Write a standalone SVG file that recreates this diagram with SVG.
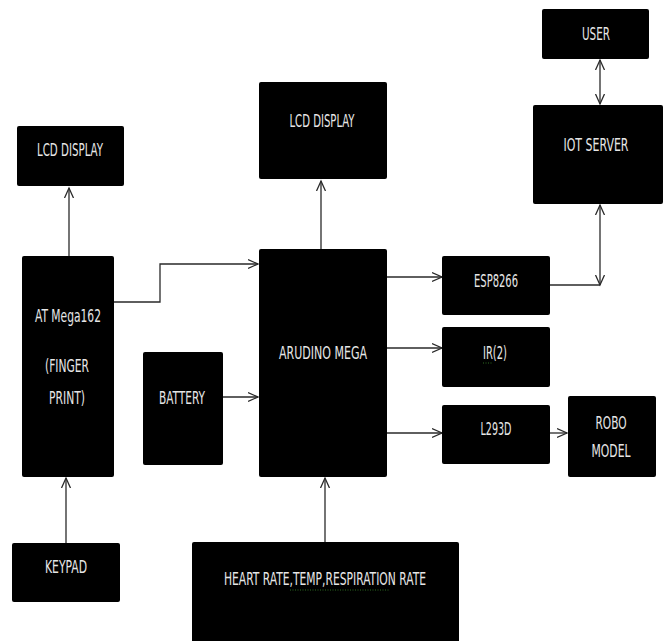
<svg xmlns="http://www.w3.org/2000/svg" width="668" height="641" viewBox="0 0 668 641">
<style>
.box{fill:#000;rx:2px;ry:2px}
.t{fill:#e6e6e6;font-family:"DejaVu Sans Condensed","Liberation Sans",sans-serif;font-size:17px;text-anchor:middle}
.c{fill:none;stroke:#2a2a2a;stroke-width:1.3}
.sq{fill:none;stroke:#3a8a2a;stroke-width:1;stroke-dasharray:1 1.5;opacity:.8}
</style>
<defs>
<marker id="ah" markerUnits="userSpaceOnUse" markerWidth="12" markerHeight="12" viewBox="0 0 12 12" refX="10" refY="6" orient="auto-start-reverse">
<path d="M0,1.5 L10,6 L0,10.5" fill="none" stroke="#2a2a2a" stroke-width="1.3"/>
</marker>
</defs>
<rect width="668" height="641" fill="#fff"/>
<g id="connectors">
<path class="c" d="M69,256 V188" marker-end="url(#ah)"/>
<path class="c" d="M321,249 V181" marker-end="url(#ah)"/>
<path class="c" d="M600,60 V104" marker-start="url(#ah)" marker-end="url(#ah)"/>
<path class="c" d="M550,285 H600"/>
<path class="c" d="M600,205 V285" marker-start="url(#ah)" marker-end="url(#ah)"/>
<path class="c" d="M114,302 H160 V264 H258" marker-end="url(#ah)"/>
<path class="c" d="M223,397 H258" marker-end="url(#ah)"/>
<path class="c" d="M387,277 H442" marker-end="url(#ah)"/>
<path class="c" d="M387,348 H442" marker-end="url(#ah)"/>
<path class="c" d="M387,433 H442" marker-end="url(#ah)"/>
<path class="c" d="M550,433 H567" marker-end="url(#ah)"/>
<path class="c" d="M66,543 V478" marker-end="url(#ah)"/>
<path class="c" d="M325,542 V478" marker-end="url(#ah)"/>
</g>
<g id="lcd-left">
<rect class="box" x="17" y="126" width="107" height="60"/>
<text class="t" x="70" y="156" textLength="66" lengthAdjust="spacingAndGlyphs">LCD DISPLAY</text>
</g>
<g id="lcd-center">
<rect class="box" x="259" y="82" width="128" height="97"/>
<text class="t" x="322" y="127" textLength="65" lengthAdjust="spacingAndGlyphs">LCD DISPLAY</text>
</g>
<g id="user">
<rect class="box" x="542" y="9" width="107" height="50"/>
<text class="t" x="596" y="40" textLength="28" lengthAdjust="spacingAndGlyphs">USER</text>
</g>
<g id="iot-server">
<rect class="box" x="533" y="105" width="130" height="99"/>
<text class="t" x="596" y="151" textLength="65" lengthAdjust="spacingAndGlyphs">IOT SERVER</text>
</g>
<g id="atmega">
<rect class="box" x="22" y="256" width="92" height="221"/>
<text class="t" x="68" y="322" textLength="66" lengthAdjust="spacingAndGlyphs">AT Mega162</text>
<text class="t" x="67" y="372" textLength="44" lengthAdjust="spacingAndGlyphs">(FINGER</text>
<text class="t" x="67" y="404" textLength="36" lengthAdjust="spacingAndGlyphs">PRINT)</text>
</g>
<g id="battery">
<rect class="box" x="143" y="352" width="80" height="113"/>
<text class="t" x="182" y="404" textLength="46" lengthAdjust="spacingAndGlyphs">BATTERY</text>
</g>
<g id="arduino">
<rect class="box" x="259" y="249" width="128" height="228"/>
<text class="t" x="323" y="359" textLength="88" lengthAdjust="spacingAndGlyphs">ARUDINO MEGA</text>
</g>
<g id="esp8266">
<rect class="box" x="442" y="256" width="108" height="59"/>
<text class="t" x="496" y="287" textLength="44" lengthAdjust="spacingAndGlyphs">ESP8266</text>
</g>
<g id="ir">
<rect class="box" x="442" y="327" width="108" height="60"/>
<text class="t" x="495" y="359" textLength="24" lengthAdjust="spacingAndGlyphs">IR(2)</text>
<path class="sq" d="M483,363 H492"/>
</g>
<g id="l293d">
<rect class="box" x="442" y="405" width="108" height="59"/>
<text class="t" x="496" y="435" textLength="31" lengthAdjust="spacingAndGlyphs">L293D</text>
</g>
<g id="robo">
<rect class="box" x="568" y="396" width="88" height="81"/>
<text class="t" x="611" y="429" textLength="31" lengthAdjust="spacingAndGlyphs">ROBO</text>
<text class="t" x="611" y="457" textLength="39" lengthAdjust="spacingAndGlyphs">MODEL</text>
</g>
<g id="keypad">
<rect class="box" x="12" y="543" width="108" height="59"/>
<text class="t" x="66" y="573" textLength="42" lengthAdjust="spacingAndGlyphs">KEYPAD</text>
</g>
<g id="sensors">
<rect class="box" x="192" y="542" width="267" height="105"/>
<text class="t" x="325" y="585" textLength="202" lengthAdjust="spacingAndGlyphs">HEART RATE,TEMP,RESPIRATION RATE</text>
<path class="sq" d="M290,590 H390"/>
</g>
</svg>
